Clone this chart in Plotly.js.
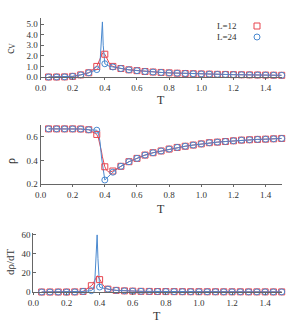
<!DOCTYPE html>
<html><head><meta charset="utf-8">
<script src="https://cdn.plot.ly/plotly-3.0.1.min.js"></script>
<style>html,body{margin:0;padding:0;background:#fff}#chart{width:304px;height:323px}</style>
</head><body><div id="chart"></div>
<script>
// Temperatures where markers are drawn
const T = [0.05,0.10,0.15,0.20,0.25,0.30,0.35,0.40,0.45,0.50,0.55,0.60,0.65,0.70,0.75,0.80,0.85,0.90,0.95,1.00,1.05,1.10,1.15,1.20,1.25,1.30,1.35,1.40,1.45,1.50];
// Extra temperatures of the dense curves near the transition
const Tx = [0.36,0.37,0.38,0.385,0.39,0.41,0.42,0.43];

// Specific heat c_V
const cv12 = [0.00,0.00,0.01,0.06,0.20,0.40,1.00,2.15,1.00,0.80,0.68,0.60,0.52,0.47,0.43,0.39,0.36,0.33,0.31,0.29,0.27,0.25,0.24,0.22,0.21,0.20,0.19,0.18,0.17,0.16];
const cv24 = [0.00,0.00,0.01,0.06,0.20,0.40,0.70,1.25,0.95,0.80,0.68,0.60,0.52,0.47,0.43,0.39,0.36,0.33,0.31,0.29,0.27,0.25,0.24,0.22,0.21,0.20,0.19,0.18,0.17,0.16];
const cv12x = [1.30,1.70,2.10,2.30,2.30,1.80,1.50,1.25];
const cv24x = [0.85,1.30,3.50,5.20,3.00,1.15,1.05,1.00];

// Density rho
const rho12 = [0.667,0.667,0.667,0.667,0.666,0.660,0.620,0.346,0.310,0.350,0.389,0.417,0.445,0.465,0.480,0.496,0.510,0.520,0.530,0.540,0.550,0.555,0.560,0.566,0.572,0.575,0.578,0.580,0.583,0.586];
const rho24 = [0.667,0.667,0.667,0.667,0.666,0.660,0.656,0.234,0.300,0.350,0.389,0.417,0.445,0.465,0.480,0.496,0.510,0.520,0.530,0.540,0.550,0.555,0.560,0.566,0.572,0.575,0.578,0.580,0.583,0.586];
const rho12x = [0.59,0.54,0.47,0.43,0.40,0.32,0.305,0.300];
const rho24x = [0.63,0.56,0.42,0.36,0.30,0.247,0.260,0.273];

// d rho / dT
const drho12 = [0,0,0,0,0.1,0.6,6.6,13.0,3.0,1.7,1.2,0.9,0.7,0.6,0.5,0.45,0.4,0.35,0.3,0.3,0.25,0.25,0.2,0.2,0.2,0.15,0.15,0.15,0.1,0.1];
const drho24 = [0,0,0,0,0.1,0.6,1.4,5.2,3.0,1.7,1.2,0.9,0.7,0.6,0.5,0.45,0.4,0.35,0.3,0.3,0.25,0.25,0.2,0.2,0.2,0.15,0.15,0.15,0.1,0.1];
const drho12x = [8.5,12.0,15.5,17.0,16.5,10.0,7.5,5.5];
const drho24x = [3.0,8.0,35.0,60.0,35.0,4.5,4.0,3.5];

const xTicks = [0.0,0.2,0.4,0.6,0.8,1.0,1.2,1.4];
const legendNames = ["L=12","L=24"];

const RED = '#e8454f', BLUE = '#4a89cf';
const FONT = 'Liberation Serif, DejaVu Serif, serif';

function merge(xa, ya, xb, yb){
  const pts = xa.map((x,i)=>[x,ya[i]]).concat(xb.map((x,i)=>[x,yb[i]]));
  pts.sort((a,b)=>a[0]-b[0]);
  return {x: pts.map(p=>p[0]), y: pts.map(p=>p[1])};
}

const traces = [];
const panels = [
  {ax:'', a12:cv12, a24:cv24, x12:cv12x, x24:cv24x},
  {ax:'2', a12:rho12, a24:rho24, x12:rho12x, x24:rho24x},
  {ax:'3', a12:drho12, a24:drho24, x12:drho12x, x24:drho24x}
];
panels.forEach(p=>{
  const xa = 'x'+p.ax, ya = 'y'+p.ax;
  const l12 = merge(T,p.a12,Tx,p.x12), l24 = merge(T,p.a24,Tx,p.x24);
  traces.push({x:l12.x,y:l12.y,xaxis:xa,yaxis:ya,mode:'lines',line:{color:RED,width:1},showlegend:false,hoverinfo:'skip',cliponaxis:false});
  traces.push({x:l24.x,y:l24.y,xaxis:xa,yaxis:ya,mode:'lines',line:{color:BLUE,width:1},showlegend:false,hoverinfo:'skip',cliponaxis:false});
  traces.push({x:T,y:p.a12,xaxis:xa,yaxis:ya,mode:'markers',name:legendNames[0],marker:{symbol:'square-open',size:6,color:RED,line:{width:1}},showlegend:false,cliponaxis:false});
  traces.push({x:T,y:p.a24,xaxis:xa,yaxis:ya,mode:'markers',name:legendNames[1],marker:{symbol:'circle-open',size:6,color:BLUE,line:{width:1}},showlegend:false,cliponaxis:false});
});

const W=304, H=323;
function xd(l,r){return [l/W, r/W];}
function yd(top,bot){return [(H-bot)/H,(H-top)/H];}
const xBase = {range:[0,1.5],tickvals:xTicks,tickformat:'.1f',showline:true,linecolor:'#666',linewidth:1,ticks:'outside',ticklen:2,tickcolor:'#666',showgrid:false,zeroline:false,tickfont:{family:FONT,size:9,color:'#333'},automargin:false};
const yBase = {showline:true,linecolor:'#666',linewidth:1,ticks:'inside',ticklen:3,tickcolor:'#666',showgrid:false,zeroline:false,tickfont:{family:FONT,size:9,color:'#333'},automargin:false};

const ann = (text,x,y,size,angle,anchor)=>({text:text,xref:'paper',yref:'paper',x:x/W,y:1-y/H,showarrow:false,textangle:angle||0,font:{family:FONT,size:size,color:'#333'},xanchor:anchor||'center',yanchor:'middle'});

const layout = {
  width:W,height:H,margin:{l:0,r:0,t:0,b:0},paper_bgcolor:'#fff',plot_bgcolor:'#fff',showlegend:false,
  font:{family:FONT,color:'#333'},
  xaxis: Object.assign({},xBase,{domain:xd(40.5,281.7),anchor:'y'}),
  yaxis: Object.assign({},yBase,{domain:yd(18,77),range:[0,5.57],tickvals:[0,1,2,3,4,5],tickformat:'.1f',anchor:'x'}),
  xaxis2: Object.assign({},xBase,{domain:xd(40.5,281.7),anchor:'y2'}),
  yaxis2: Object.assign({},yBase,{domain:yd(125,184),range:[0.2,0.7],tickvals:[0.2,0.4,0.6],tickformat:'.1f',anchor:'x2'}),
  xaxis3: Object.assign({},xBase,{domain:xd(33.4,281.7),anchor:'y3'}),
  yaxis3: Object.assign({},yBase,{domain:yd(233,292),range:[0,62],tickvals:[0,20,40,60],tickformat:'d',anchor:'x3'}),
  annotations:[
    ann('T',161,100,12),
    ann('T',161,209,12),
    ann('T',157,316,12),
    ann('c',10,52,12,-90),
    ann('V',13,46,8,-90),
    ann('ρ',11,161,12,-90),
    ann('dρ/dT',10,262,11,-90),
    ann(legendNames[0],215,26,9,0,'left'),
    ann(legendNames[1],215,37,9,0,'left')
  ],
  shapes:[
    {type:'rect',xref:'paper',yref:'paper',xsizemode:'pixel',ysizemode:'pixel',xanchor:257/W,yanchor:1-26/H,x0:-3,x1:3,y0:-3,y1:3,line:{color:RED,width:1},fillcolor:'rgba(0,0,0,0)'},
    {type:'circle',xref:'paper',yref:'paper',xsizemode:'pixel',ysizemode:'pixel',xanchor:257/W,yanchor:1-37/H,x0:-3,x1:3,y0:-3,y1:3,line:{color:BLUE,width:1},fillcolor:'rgba(0,0,0,0)'}
  ]
};
Plotly.newPlot('chart',traces,layout,{staticPlot:true,displayModeBar:false});
</script></body></html>
